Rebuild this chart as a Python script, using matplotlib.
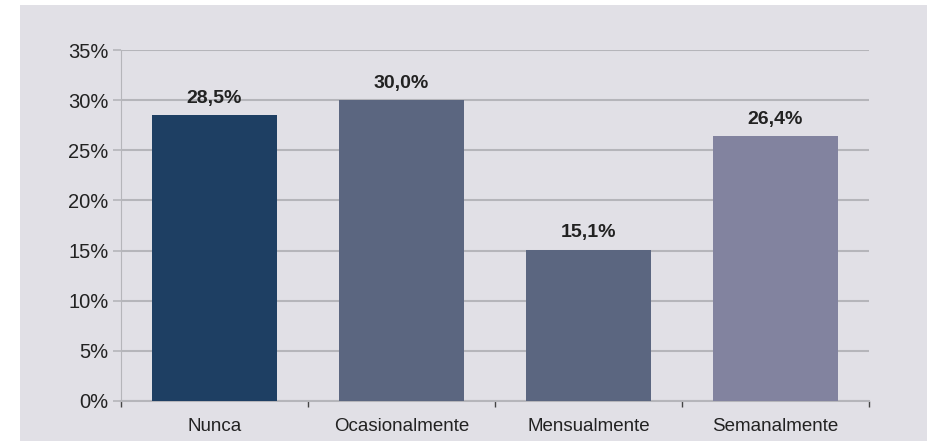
import matplotlib.pyplot as plt
from matplotlib.patches import Rectangle

categorias = ['Nunca', 'Ocasionalmente', 'Mensualmente', 'Semanalmente']
valores = [28.5, 30.0, 15.1, 26.4]
etiquetas = ['28,5%', '30,0%', '15,1%', '26,4%']
colores = ['#1e3f63', '#5b6680', '#5b6680', '#82839f']
yticks = [0, 5, 10, 15, 20, 25, 30, 35]

plt.rcParams['font.family'] = ['Liberation Sans', 'DejaVu Sans']

fig = plt.figure(figsize=(9.28, 4.41), dpi=100)
fig.patch.set_facecolor('white')
# panel gris de fondo
fig.patches.append(Rectangle((20 / 928, 0), 1, 436 / 441, transform=fig.transFigure,
                             facecolor='#e1e0e6', edgecolor='none', zorder=-10))

ax = fig.add_axes([121 / 928, 40 / 441, 748 / 928, 351 / 441])
ax.set_facecolor('none')

x = range(len(categorias))
ax.bar(x, valores, width=0.67, color=colores, zorder=3)
for i, v in enumerate(valores):
    ax.text(i, v + 1.7, etiquetas[i], ha='center', va='center',
            fontsize=14, fontweight='bold', color='#222222')

ax.set_xlim(-0.5, 3.5)
ax.set_ylim(0, 35)
ax.set_yticks(yticks)
ax.set_yticklabels([f'{t}%' for t in yticks], fontsize=14.5, color='#222222')
ax.yaxis.grid(True, color='#b5b5ba', linewidth=1.5, zorder=1)
ax.tick_params(axis='y', length=6, color='#b5b5ba', width=1.2, pad=3)

ax.set_xticks([-0.5, 0.5, 1.5, 2.5, 3.5])
ax.set_xticklabels([])
ax.set_xticks(list(x), minor=True)
ax.set_xticklabels(categorias, minor=True, fontsize=13.5, color='#222222')
ax.tick_params(axis='x', which='major', length=4, color='#444444', width=1)
ax.tick_params(axis='x', which='minor', length=0, pad=12)

for s in ['top', 'right']:
    ax.spines[s].set_visible(False)
ax.spines['left'].set_color('#b5b5ba')
ax.spines['bottom'].set_color('#b5b5ba')
ax.spines['bottom'].set_linewidth(1.5)

fig.savefig('out.png', dpi=100)
